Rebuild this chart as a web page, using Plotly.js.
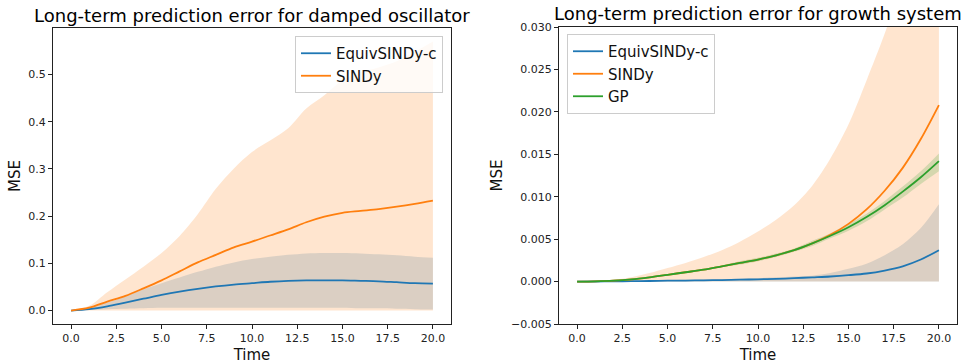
<!DOCTYPE html>
<html>
<head>
<meta charset="utf-8">
<script src="https://cdn.plot.ly/plotly-3.0.1.min.js"></script>
<style>html,body{margin:0;padding:0;background:#fff;}#chart{width:962px;height:364px;}</style>
</head>
<body>
<div id="chart"></div>
<script>
// ---------- data ----------
const time = [0,1,2,3,4,5,6,7,8,9,10,11,12,13,14,15,16,17,18,19,20];

// Left: damped oscillator
const oscEquivMean  = [0,0.003,0.009,0.017,0.025,0.033,0.040,0.046,0.051,0.055,0.058,0.061,0.063,0.064,0.064,0.064,0.063,0.062,0.060,0.058,0.057];
const oscEquivUpper = [0,0.006,0.017,0.030,0.045,0.058,0.070,0.082,0.093,0.102,0.109,0.114,0.118,0.121,0.122,0.122,0.121,0.119,0.117,0.114,0.112];
const oscEquivLower = [0,0.001,0.003,0.004,0.005,0.006,0.006,0.006,0.006,0.006,0.006,0.006,0.006,0.006,0.006,0.006,0.005,0.005,0.004,0.003,0.002];
const oscSindyMean  = [0,0.006,0.019,0.031,0.047,0.064,0.083,0.102,0.118,0.134,0.146,0.159,0.172,0.187,0.199,0.207,0.211,0.215,0.220,0.226,0.233];
const oscSindyUpper = [0,0.010,0.039,0.066,0.093,0.122,0.158,0.204,0.258,0.301,0.336,0.360,0.386,0.428,0.456,0.488,0.505,0.515,0.528,0.548,0.570];
const oscSindyLower = [0,0,0,0,0,0,0,0,0,0,0,0,0,0,0,0,0,0,0,0,0];

// Right: growth system
const grwEquivMean  = [0,0.00001,0.00003,0.00005,0.00007,0.0001,0.00012,0.00015,0.00018,0.00022,0.00027,0.00032,0.0004,0.0005,0.0006,0.00075,0.00095,0.0013,0.0018,0.0026,0.0037];
const grwEquivUpper = [0,0.00002,0.00005,0.0001,0.00013,0.00016,0.0002,0.00024,0.00028,0.00033,0.0004,0.0005,0.0006,0.0007,0.0010,0.0015,0.0021,0.0031,0.0044,0.0063,0.0091];
const grwEquivLower = [0,0,0,0,0,0,0,0,0,0,0,0,0,0,0,0,0,0,0,0,0];
const grwSindyMean  = [0,0.00003,0.0001,0.00025,0.0005,0.0008,0.0011,0.0014,0.0018,0.0022,0.0026,0.0031,0.0037,0.0045,0.0055,0.0068,0.0085,0.0107,0.0134,0.0168,0.0208];
const grwSindyUpper = [0,0.00008,0.0002,0.0005,0.0010,0.0016,0.0022,0.0029,0.0037,0.0047,0.0059,0.0073,0.0090,0.0113,0.0145,0.0185,0.0237,0.0292,0.0355,0.0425,0.0505];
const grwSindyLower = [0,0,0,0,0,0,0,0,0,0,0,0,0,0,0,0,0,0,0,0,0];
const grwGpMean     = [0,0.00003,0.0001,0.00025,0.0005,0.0008,0.0011,0.0014,0.0018,0.0022,0.0026,0.0031,0.0037,0.0045,0.0054,0.0064,0.0076,0.0090,0.0106,0.0123,0.0142];
const grwGpUpper    = [0,0.00004,0.00012,0.00028,0.00055,0.00086,0.0012,0.0015,0.0019,0.0024,0.0028,0.0033,0.0039,0.0048,0.0057,0.0068,0.0080,0.0095,0.0112,0.0130,0.0151];
const grwGpLower    = [0,0.00002,0.00008,0.00022,0.00045,0.00074,0.0010,0.0013,0.0017,0.0020,0.0024,0.0029,0.0035,0.0042,0.0051,0.0060,0.0071,0.0085,0.0099,0.0115,0.0130];

const xTickVals = [0,2.5,5,7.5,10,12.5,15,17.5,20];
const xTickText = ['0.0','2.5','5.0','7.5','10.0','12.5','15.0','17.5','20.0'];

// ---------- styles ----------
const C_BLUE = '#1f77b4', C_ORANGE = '#ff7f0e', C_GREEN = '#2ca02c';
const F_BLUE = 'rgba(31,119,180,0.2)', F_ORANGE = 'rgba(255,127,14,0.2)', F_GREEN = 'rgba(44,160,44,0.2)';
const FONT = 'DejaVu Sans, sans-serif';
const SMOOTH = 0.9;

function band(lower, upper, fill, xa, ya) {
  return [
    {x: time, y: lower, type: 'scatter', mode: 'lines', line: {width: 0, shape: 'spline', smoothing: SMOOTH}, showlegend: false, hoverinfo: 'skip', xaxis: xa, yaxis: ya},
    {x: time, y: upper, type: 'scatter', mode: 'lines', line: {width: 0, shape: 'spline', smoothing: SMOOTH}, fill: 'tonexty', fillcolor: fill, showlegend: false, hoverinfo: 'skip', xaxis: xa, yaxis: ya}
  ];
}
function line(y, name, color, xa, ya, leg) {
  return {x: time, y: y, type: 'scatter', mode: 'lines', name: name, line: {color: color, width: 1.8, shape: 'spline', smoothing: SMOOTH}, xaxis: xa, yaxis: ya, legend: leg};
}

const traces = [].concat(
  band(oscEquivLower, oscEquivUpper, F_BLUE, 'x', 'y'),
  band(oscSindyLower, oscSindyUpper, F_ORANGE, 'x', 'y'),
  [line(oscEquivMean, 'EquivSINDy-c', C_BLUE, 'x', 'y', 'legend'),
   line(oscSindyMean, 'SINDy', C_ORANGE, 'x', 'y', 'legend')],
  band(grwEquivLower, grwEquivUpper, F_BLUE, 'x2', 'y2'),
  band(grwSindyLower, grwSindyUpper, F_ORANGE, 'x2', 'y2'),
  band(grwGpLower, grwGpUpper, F_GREEN, 'x2', 'y2'),
  [line(grwEquivMean, 'EquivSINDy-c', C_BLUE, 'x2', 'y2', 'legend2'),
   line(grwSindyMean, 'SINDy', C_ORANGE, 'x2', 'y2', 'legend2'),
   line(grwGpMean, 'GP', C_GREEN, 'x2', 'y2', 'legend2')]
);

const W = 962, H = 364;
const axBase = {
  showline: true, mirror: true, linecolor: '#222', linewidth: 1,
  showgrid: false, zeroline: false,
  ticks: 'outside', ticklen: 4, tickwidth: 1, tickcolor: '#222',
  tickfont: {family: FONT, size: 11, color: '#222'},
  fixedrange: true
};
function xa(domain, anchor) {
  return Object.assign({}, axBase, {
    domain: domain, anchor: anchor, range: [-1, 21],
    tickmode: 'array', tickvals: xTickVals, ticktext: xTickText,
    title: {text: 'Time', font: {family: FONT, size: 15, color: '#111'}, standoff: 5}
  });
}
function ya(domain, anchor, range, dtick, fmt) {
  return Object.assign({}, axBase, {
    domain: domain, anchor: anchor, range: range,
    tick0: 0, dtick: dtick, tickformat: fmt,
    title: {text: 'MSE', font: {family: FONT, size: 15, color: '#111'}, standoff: 4}
  });
}

const legendBase = {
  bgcolor: 'rgba(255,255,255,0.8)', bordercolor: '#cccccc', borderwidth: 1,
  traceorder: 'normal', tracegroupgap: 0,
  font: {family: FONT, size: 15, color: '#111'}
};

const layout = {
  width: W, height: H,
  margin: {l: 0, r: 0, t: 0, b: 0},
  paper_bgcolor: '#fff', plot_bgcolor: '#fff',
  showlegend: true,
  font: {family: FONT, color: '#111'},
  xaxis: xa([53 / W, 451 / W], 'y'),
  yaxis: ya([40 / H, 336 / H], 'x', [-0.0285, 0.5985], 0.1, '.1f'),
  xaxis2: xa([559 / W, 957 / W], 'y2'),
  yaxis2: ya([40 / H, 337 / H], 'x2', [-0.005, 0.030], 0.005, '.3f'),
  legend: Object.assign({}, legendBase, {x: 443 / W, y: 1 - 36 / H, xanchor: 'right', yanchor: 'top'}),
  legend2: Object.assign({}, legendBase, {x: 567 / W, y: 1 - 34 / H, xanchor: 'left', yanchor: 'top'}),
  annotations: [
    {text: 'Long-term prediction error for damped oscillator', xref: 'paper', yref: 'paper',
     x: 252 / W, y: 1 - 16 / H, xanchor: 'center', yanchor: 'middle', showarrow: false,
     font: {family: FONT, size: 18, color: '#000'}},
    {text: 'Long-term prediction error for growth system', xref: 'paper', yref: 'paper',
     x: 758 / W, y: 1 - 14 / H, xanchor: 'center', yanchor: 'middle', showarrow: false,
     font: {family: FONT, size: 18, color: '#000'}}
  ]
};

Plotly.newPlot('chart', traces, layout, {displayModeBar: false, staticPlot: true});
</script>
</body>
</html>
